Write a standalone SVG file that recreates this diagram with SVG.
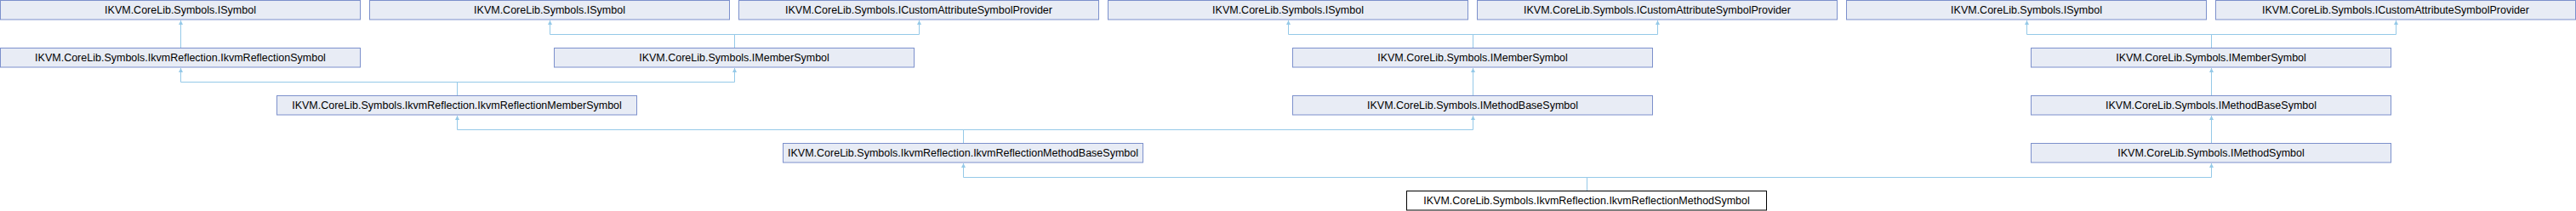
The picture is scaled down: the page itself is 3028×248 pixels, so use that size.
<svg xmlns="http://www.w3.org/2000/svg" width="3028" height="248" viewBox="0 0 3028 248">
<style>
.n rect{fill:#E8ECF5;stroke:#7C90CC;stroke-width:1}
.f rect{fill:#FFFFFF;stroke:#000000;stroke-width:1}
text{font-family:"Liberation Sans",Arial,sans-serif;font-size:12.5px;text-anchor:middle;fill:#000}
#edges path{fill:none;stroke:#95C9E8;stroke-width:1;marker-end:url(#arr)}
</style>
<defs>
<marker id="arr" viewBox="0 0 10 10" refX="10" refY="5" markerWidth="5" markerHeight="5" orient="auto" markerUnits="userSpaceOnUse">
<path d="M0,0 L10,5 L0,10 z" fill="#95C9E8" stroke="none"/>
</marker>
</defs>
<rect width="3028" height="248" fill="#FFFFFF"/>
<g id="edges">
<path d="M212.5,56 V24"/>
<path d="M863.5,56 V40.5 H646.5 V24"/>
<path d="M863.5,56 V40.5 H1080.5 V24"/>
<path d="M1731.5,56 V40.5 H1514.5 V24"/>
<path d="M1731.5,56 V40.5 H1948.5 V24"/>
<path d="M2599.5,56 V40.5 H2382.5 V24"/>
<path d="M2599.5,56 V40.5 H2816.5 V24"/>
<path d="M537.5,112 V96.5 H212.5 V80"/>
<path d="M537.5,112 V96.5 H863.5 V80"/>
<path d="M1731.5,112 V80"/>
<path d="M2599.5,112 V80"/>
<path d="M1132.5,168 V152.5 H537.5 V136"/>
<path d="M1132.5,168 V152.5 H1731.5 V136"/>
<path d="M2599.5,168 V136"/>
<path d="M1865.5,224 V208.5 H1132.5 V192"/>
<path d="M1865.5,224 V208.5 H2599.5 V192"/>
</g>
<g id="n_isymbol1" class="n"><rect x="0.5" y="0.5" width="423" height="22.5"/><text x="212" y="16">IKVM.CoreLib.Symbols.ISymbol</text></g>
<g id="n_isymbol2" class="n"><rect x="434.5" y="0.5" width="423" height="22.5"/><text x="646" y="16">IKVM.CoreLib.Symbols.ISymbol</text></g>
<g id="n_icasp1" class="n"><rect x="868.5" y="0.5" width="423" height="22.5"/><text x="1080" y="16">IKVM.CoreLib.Symbols.ICustomAttributeSymbolProvider</text></g>
<g id="n_isymbol3" class="n"><rect x="1302.5" y="0.5" width="423" height="22.5"/><text x="1514" y="16">IKVM.CoreLib.Symbols.ISymbol</text></g>
<g id="n_icasp2" class="n"><rect x="1736.5" y="0.5" width="423" height="22.5"/><text x="1948" y="16">IKVM.CoreLib.Symbols.ICustomAttributeSymbolProvider</text></g>
<g id="n_isymbol4" class="n"><rect x="2170.5" y="0.5" width="423" height="22.5"/><text x="2382" y="16">IKVM.CoreLib.Symbols.ISymbol</text></g>
<g id="n_icasp3" class="n"><rect x="2604.5" y="0.5" width="423" height="22.5"/><text x="2816" y="16">IKVM.CoreLib.Symbols.ICustomAttributeSymbolProvider</text></g>
<g id="n_ikvmreflsym" class="n"><rect x="0.5" y="56.5" width="423" height="22.5"/><text x="212" y="72">IKVM.CoreLib.Symbols.IkvmReflection.IkvmReflectionSymbol</text></g>
<g id="n_imember1" class="n"><rect x="651.5" y="56.5" width="423" height="22.5"/><text x="863" y="72">IKVM.CoreLib.Symbols.IMemberSymbol</text></g>
<g id="n_imember2" class="n"><rect x="1519.5" y="56.5" width="423" height="22.5"/><text x="1731" y="72">IKVM.CoreLib.Symbols.IMemberSymbol</text></g>
<g id="n_imember3" class="n"><rect x="2387.5" y="56.5" width="423" height="22.5"/><text x="2599" y="72">IKVM.CoreLib.Symbols.IMemberSymbol</text></g>
<g id="n_ikvmreflmember" class="n"><rect x="325.5" y="112.5" width="423" height="22.5"/><text x="537" y="128">IKVM.CoreLib.Symbols.IkvmReflection.IkvmReflectionMemberSymbol</text></g>
<g id="n_imethodbase2" class="n"><rect x="1519.5" y="112.5" width="423" height="22.5"/><text x="1731" y="128">IKVM.CoreLib.Symbols.IMethodBaseSymbol</text></g>
<g id="n_imethodbase3" class="n"><rect x="2387.5" y="112.5" width="423" height="22.5"/><text x="2599" y="128">IKVM.CoreLib.Symbols.IMethodBaseSymbol</text></g>
<g id="n_ikvmreflmethodbase" class="n"><rect x="920.5" y="168.5" width="423" height="22.5"/><text x="1132" y="184">IKVM.CoreLib.Symbols.IkvmReflection.IkvmReflectionMethodBaseSymbol</text></g>
<g id="n_imethod" class="n"><rect x="2387.5" y="168.5" width="423" height="22.5"/><text x="2599" y="184">IKVM.CoreLib.Symbols.IMethodSymbol</text></g>
<g id="n_ikvmreflmethod" class="f"><rect x="1653.5" y="224.5" width="423" height="22.5"/><text x="1865" y="240">IKVM.CoreLib.Symbols.IkvmReflection.IkvmReflectionMethodSymbol</text></g>
</svg>
